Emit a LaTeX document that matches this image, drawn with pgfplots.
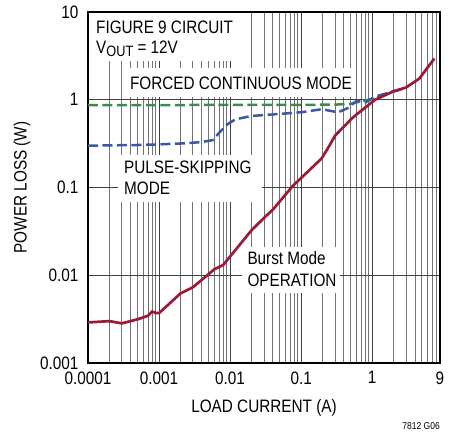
\documentclass[border=0pt]{standalone}
\usepackage{fontspec}
\setmainfont{Liberation Sans}[FakeStretch=0.85]
\usepackage{pgfplots}
\pgfplotsset{compat=1.18}
\definecolor{burstred}{HTML}{9B1B37}
\definecolor{pulseblue}{HTML}{3858A8}
\definecolor{fcmgreen}{HTML}{3A8C46}
\newcommand\cf{\fontsize{18bp}{21bp}\selectfont}
\begin{document}
\begin{tikzpicture}
\begin{axis}[
  scale only axis,
  width=352bp, height=351bp,
  xmode=log, ymode=log,
  xmin=0.0001, xmax=9, ymin=0.001, ymax=10,
  axis line style={line width=1.8bp},
  xtick={0.0001,0.001,0.01,0.1,1,9},
  xticklabels={0.0001,0.001,0.01,0.1,1,9},
  minor xtick={0.0002,0.0003,0.0004,0.0005,0.0006,0.0007,0.0008,0.0009,
    0.002,0.003,0.004,0.005,0.006,0.007,0.008,0.009,
    0.02,0.03,0.04,0.05,0.06,0.07,0.08,0.09,
    0.2,0.3,0.4,0.5,0.6,0.7,0.8,0.9,
    2,3,4,5,6,7,8},
  ytick={0.001,0.01,0.1,1,10},
  yticklabels={0.001,0.01,0.1,1,10},
  minor ytick={},
  major tick length=0pt, minor tick length=0pt,
  xmajorgrids, xminorgrids, ymajorgrids,
  major grid style={black!75, line width=0.9bp},
  minor grid style={black!55, line width=0.9bp},
  tick label style={font=\cf},
  xticklabel style={anchor=north, yshift=-5bp},
  yticklabel style={anchor=east, xshift=-6bp},
  xlabel={LOAD CURRENT (A)},
  xlabel style={at={(rel axis cs:0.5,0)}, anchor=center, yshift=-45bp, font=\cf},
  clip=true,
]
% white boxes behind text
\fill[white] (rel axis cs:0.004,0.996) rectangle (rel axis cs:0.463,0.860);
\fill[white] (rel axis cs:0.105,0.840) rectangle (rel axis cs:0.753,0.758);
\fill[white] (rel axis cs:0.0852,0.593) rectangle (rel axis cs:0.494,0.459);
\fill[white] (rel axis cs:0.4375,0.330) rectangle (rel axis cs:0.716,0.199);

\addplot[fcmgreen, line width=2.5bp, dash pattern=on 10bp off 4.5bp] coordinates {
(0.0001,0.87) (0.01,0.872) (0.1,0.875) (0.3,0.88) (0.5,0.9) (0.7,0.96) (1,1.02) (1.5,1.15) (2,1.25) (2.8,1.33)
};
\addplot[pulseblue, line width=2.5bp, dash pattern=on 10bp off 4.5bp] coordinates {
(0.0001,0.30) (0.0005,0.305) (0.001,0.31) (0.0025,0.32) (0.004,0.33) (0.0057,0.347) (0.007,0.42) (0.0093,0.53) (0.012,0.6) (0.02,0.653) (0.05,0.69) (0.1,0.72) (0.195,0.78) (0.33,0.72) (0.45,0.8) (0.6,0.97) (0.8,0.93) (1.1,1.09) (1.9,1.23) (2.7,1.33)
};
\addplot[burstred, line width=2.7bp] coordinates {
(0.0001,0.0029) (0.0002,0.0030) (0.0003,0.00283) (0.0005,0.00315) (0.0007,0.00345) (0.0008,0.00385) (0.0009,0.00372) (0.001,0.0037) (0.0015,0.0050) (0.002,0.0062) (0.003,0.0073) (0.006,0.0117) (0.008,0.0131) (0.02,0.0325) (0.03,0.045) (0.04,0.056) (0.077,0.105) (0.195,0.215) (0.25,0.30) (0.3,0.39) (0.52,0.615) (0.63,0.70) (1.1,1.0) (2.0,1.25) (3.0,1.38) (4.6,1.74) (7.5,2.95)
};

\node[anchor=base west, inner sep=0pt, font=\cf] at (rel axis cs:0.0227,0.939) {FIGURE 9 CIRCUIT};
\node[anchor=base west, inner sep=0pt, font=\cf] at (rel axis cs:0.0227,0.882) {V\raisebox{-0.3ex}{\fontsize{15bp}{15bp}\selectfont OUT} = 12V};
\node[anchor=base west, inner sep=0pt, font=\cf] at (rel axis cs:0.119,0.778) {FORCED CONTINUOUS MODE};
\node[anchor=base west, inner sep=0pt, font=\cf] at (rel axis cs:0.102,0.540) {PULSE-SKIPPING};
\node[anchor=base west, inner sep=0pt, font=\cf] at (rel axis cs:0.102,0.479) {MODE};
\node[anchor=base west, inner sep=0pt, font=\cf] at (rel axis cs:0.4526,0.282) {Burst Mode};
\node[anchor=base west, inner sep=0pt, font=\cf] at (rel axis cs:0.4526,0.217) {OPERATION};
\end{axis}
\node[rotate=90, anchor=center, inner sep=0pt, font=\cf] at (-66bp,175.5bp) {POWER LOSS (W)};
\node[anchor=base east, inner sep=0pt, font=\fontsize{10bp}{11bp}\selectfont] at (352bp,-66bp) {7812 G06};
\path (-88bp,-70bp) rectangle (366bp,363bp);
\end{tikzpicture}
\end{document}
